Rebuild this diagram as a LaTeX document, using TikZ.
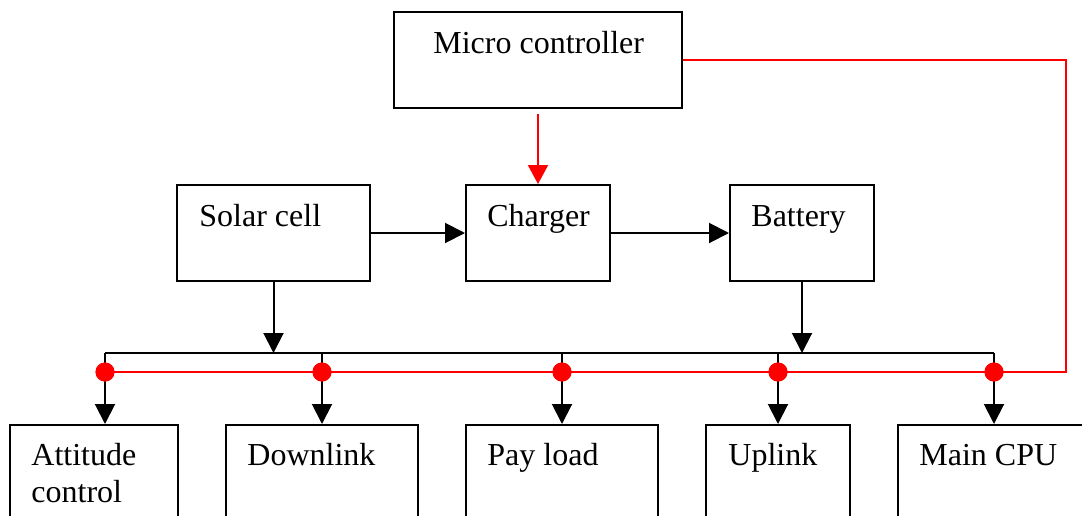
\documentclass[tikz,border=0pt]{standalone}
\usepackage{fontspec}
\setmainfont{Liberation Serif}
\usetikzlibrary{arrows.meta}
\begin{document}
\begin{tikzpicture}[x=0.5pt,y=-0.5pt,
  box/.style={draw=black,line width=1pt,rectangle,inner sep=0pt,minimum height=48pt},
  lbl/.style={inner sep=0pt,anchor=base west,font=\fontsize{16}{19}\selectfont},
  wire/.style={draw=black,line width=1pt},
  arr/.style={wire,-{Triangle[length=10pt,width=10pt]}},
  rwire/.style={draw=red,line width=1pt},
  rarr/.style={rwire,-{Triangle[length=9.5pt,width=10pt]}},
  dot/.style={circle,fill=red,inner sep=0pt,minimum size=9.5pt}]
\useasboundingbox (0,0) rectangle (1082,515);
\clip (0,0) rectangle (1082,515);
% boxes
\node[box,minimum width=144pt] (mc) at (538,60) {};
\node[box,minimum width=96.5pt] (sol) at (273.5,233) {};
\node[box,minimum width=72pt] (ch) at (538,233) {};
\node[box,minimum width=72pt] (bat) at (802,233) {};
\node[box,minimum width=84pt,minimum height=60pt] (att) at (94,485) {};
\node[box,minimum width=96pt,minimum height=60pt] (dl) at (322,485) {};
\node[box,minimum width=96pt,minimum height=60pt] (pl) at (562,485) {};
\node[box,minimum width=72pt,minimum height=60pt] (ul) at (778,485) {};
\node[box,minimum width=96pt,minimum height=60pt] (cpu) at (994,485) {};
% labels
\node[lbl] (tmc) at (433,53) {Micro controller};
\node[lbl] (tsol) at (199,226) {Solar cell};
\node[lbl] (tch) at (487,226) {Charger};
\node[lbl] (tbat) at (751,226) {Battery};
\node[lbl] (tatt1) at (31,465) {Attitude};
\node[lbl] (tatt2) at (31,502) {control};
\node[lbl] (tdl) at (247,465) {Downlink};
\node[lbl] (tpl) at (487,465) {Pay load};
\node[lbl] (tul) at (728,465) {Uplink};
\node[lbl] (tcpu) at (919,465) {Main CPU};
% bus coordinates
\coordinate (b1) at (105,353);
\coordinate (b2) at (322,353);
\coordinate (b3) at (562,353);
\coordinate (b4) at (778,353);
\coordinate (b5) at (994,353);
\coordinate (rc) at (1066,372);
% black connectors
\draw[arr] (sol.east) -- (ch.west);
\draw[arr] (ch.east) -- (bat.west);
\draw[wire] (b1) -- (b5);
\draw[arr] (sol.south) -- (sol.south |- b1);
\draw[arr] (bat.south) -- (bat.south |- b1);
\draw[arr] (b1) -- (att.north -| b1);
\draw[arr] (b2) -- (dl.north);
\draw[arr] (b3) -- (pl.north);
\draw[arr] (b4) -- (ul.north);
\draw[arr] (b5) -- (cpu.north);
% red connectors
\draw[rarr] ([yshift=-2.5pt]mc.south) -- (ch.north);
\node[dot] (d1) at (105,372) {};
\node[dot] (d2) at (322,372) {};
\node[dot] (d3) at (562,372) {};
\node[dot] (d4) at (778,372) {};
\node[dot] (d5) at (994,372) {};
\draw[rwire] (mc.east) -| (rc) -- (d1.center);
\foreach \n in {1,...,5} {\node[dot] at (d\n) {};}
\end{tikzpicture}
\end{document}
